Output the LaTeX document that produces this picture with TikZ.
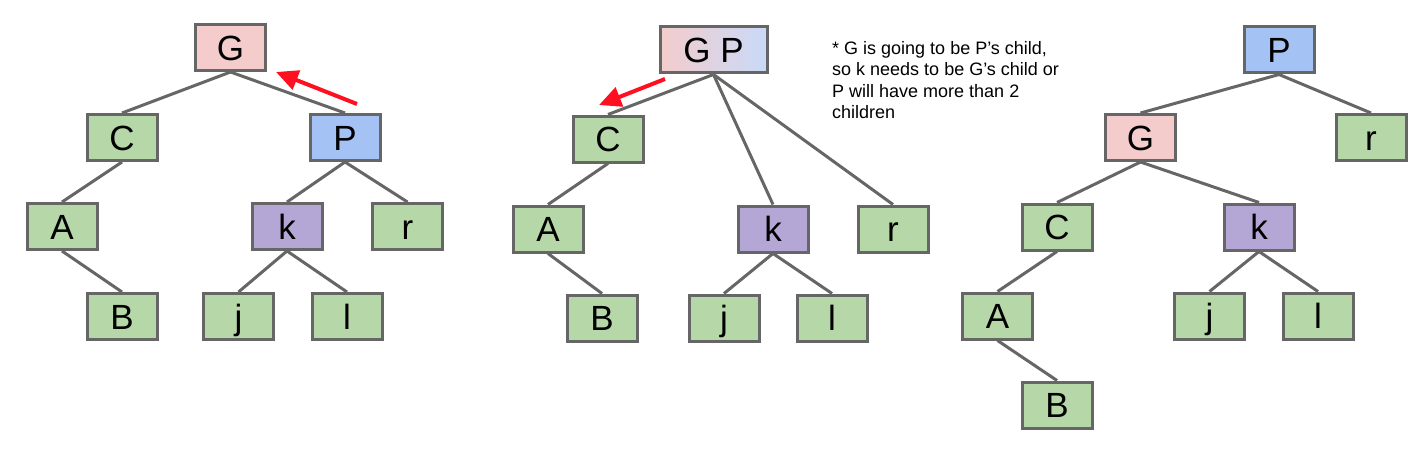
\documentclass[tikz,border=0pt]{standalone}
\usepackage{fontspec}
\setmainfont{Liberation Sans}
\usetikzlibrary{arrows.meta}
\definecolor{bordergray}{HTML}{666666}
\definecolor{pinkfill}{HTML}{F4CCCC}
\definecolor{greenfill}{HTML}{B6D7A8}
\definecolor{bluefill}{HTML}{A4C2F4}
\definecolor{purplefill}{HTML}{B4A7D6}
\definecolor{lightblue}{HTML}{C9DAF8}
\definecolor{arrowred}{HTML}{FF1020}
\tikzset{
  x=1pt, y=-1pt,
  box/.style={draw=bordergray, line width=3pt, minimum width=70pt, minimum height=46pt,
    inner sep=0pt, font=\fontsize{35}{35}\selectfont, text height=25pt, text depth=0pt},
  gbox/.style={box, fill=greenfill},
  pbox/.style={box, fill=pinkfill},
  bbox/.style={box, fill=bluefill},
  kbox/.style={box, fill=purplefill},
  edge/.style={draw=bordergray, line width=3pt},
  redarrow/.style={draw=arrowred, line width=4pt, -{Triangle[length=22pt,width=20pt]}},
}
\begin{document}
\begin{tikzpicture}
\useasboundingbox (0,0) rectangle (1424,452);
% Tree 1
\node[pbox] (G1) at (230.5,47.5) {G};
\node[gbox] (C1) at (122,137.5) {C};
\node[bbox] (P1) at (345,137.5) {P};
\node[gbox] (A1) at (62,226.5) {A};
\node[kbox] (k1) at (287,226.5) {k};
\node[gbox] (r1) at (407.5,226.5) {r};
\node[gbox] (B1) at (122,316.5) {B};
\node[gbox] (j1) at (238.5,316.5) {j};
\node[gbox] (l1) at (347,316.5) {l};
\draw[edge] (G1.south) -- (C1.north);
\draw[edge] (G1.south) -- (P1.north);
\draw[edge] (C1.south) -- (A1.north);
\draw[edge] (A1.south) -- (B1.north);
\draw[edge] (P1.south) -- (k1.north);
\draw[edge] (P1.south) -- (r1.north);
\draw[edge] (k1.south) -- (j1.north);
\draw[edge] (k1.south) -- (l1.north);
\coordinate (a1s) at (357,104);
\coordinate (a1e) at (276,72);
\draw[redarrow] (a1s) -- (a1e);
% Tree 2
\node[box, minimum width=107pt, left color=pinkfill, right color=lightblue] (GP) at (713.5,50) {G P};
\node[gbox] (C2) at (608,139) {C};
\node[gbox] (A2) at (548,229) {A};
\node[kbox] (k2) at (773,229) {k};
\node[gbox] (r2) at (893,229) {r};
\node[gbox] (B2) at (602,318) {B};
\node[gbox] (j2) at (724,318) {j};
\node[gbox] (l2) at (832,318) {l};
\draw[edge] (GP.south) -- (C2.north);
\draw[edge] (GP.south) -- (k2.north);
\draw[edge] (GP.south) -- (r2.north);
\draw[edge] (C2.south) -- (A2.north);
\draw[edge] (A2.south) -- (B2.north);
\draw[edge] (k2.south) -- (j2.north);
\draw[edge] (k2.south) -- (l2.north);
\coordinate (a2s) at (665,79);
\coordinate (a2e) at (599,105);
\draw[redarrow] (a2s) -- (a2e);
\node[anchor=north west, align=left, inner sep=0pt, font=\fontsize{18}{21.5}\selectfont] (note) at (832,41)
  {* G is going to be P’s child,\\so k needs to be G’s child or\\P will have more than 2\\children};
% Tree 3
\node[bbox] (P3) at (1279,50) {P};
\node[pbox] (G3) at (1140.5,137.5) {G};
\node[gbox] (r3) at (1371,137.5) {r};
\node[gbox] (C3) at (1057,227) {C};
\node[kbox] (k3) at (1259,227) {k};
\node[gbox] (A3) at (997.5,316) {A};
\node[gbox] (j3) at (1209.5,316) {j};
\node[gbox] (l3) at (1318,316) {l};
\node[gbox] (B3) at (1057,405) {B};
\draw[edge] (P3.south) -- (G3.north);
\draw[edge] (P3.south) -- (r3.north);
\draw[edge] (G3.south) -- (C3.north);
\draw[edge] (G3.south) -- (k3.north);
\draw[edge] (C3.south) -- (A3.north);
\draw[edge] (A3.south) -- (B3.north);
\draw[edge] (k3.south) -- (j3.north);
\draw[edge] (k3.south) -- (l3.north);
\end{tikzpicture}
\end{document}
